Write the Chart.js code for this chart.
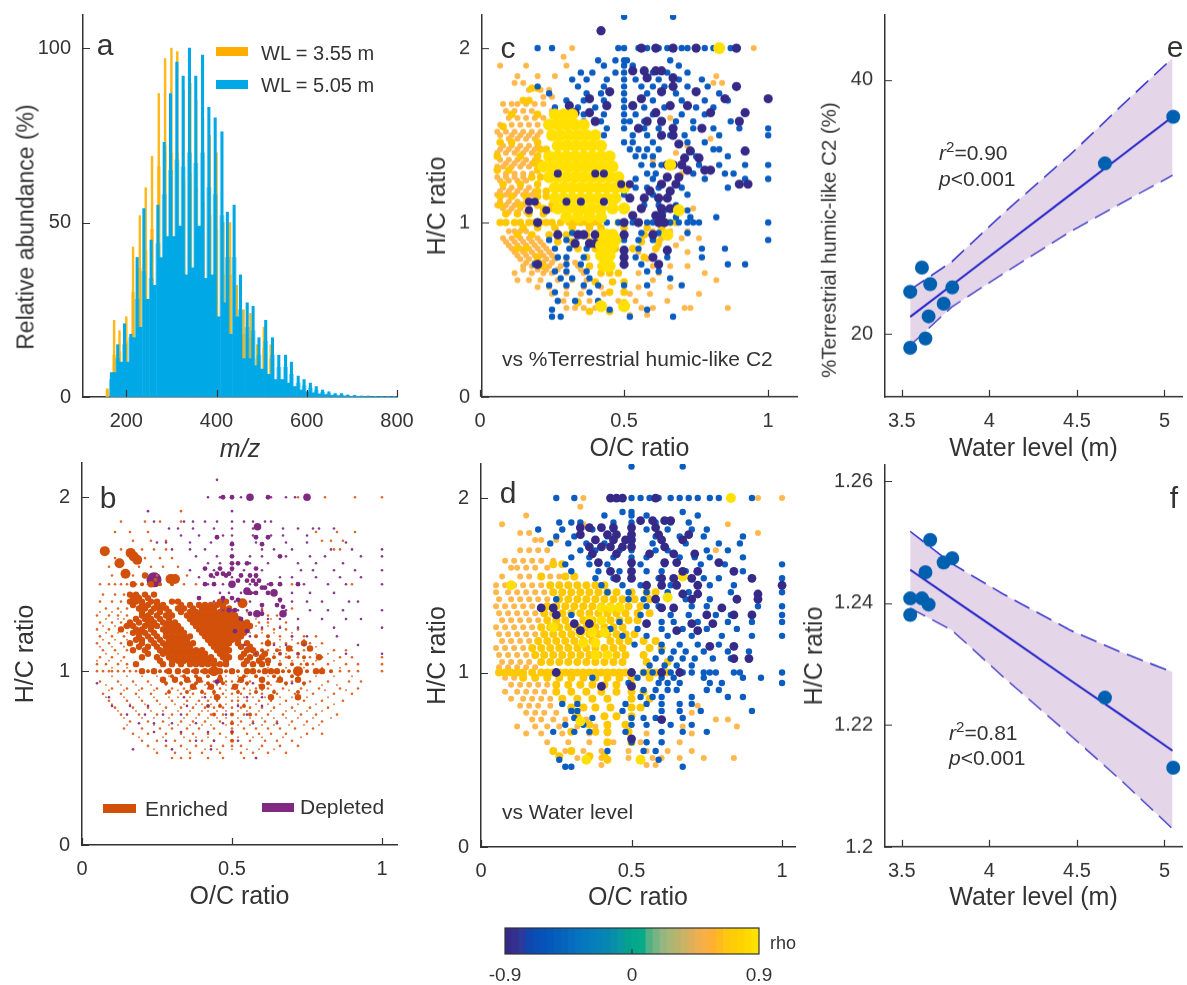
<!DOCTYPE html>
<html><head><meta charset="utf-8">
<script src="https://cdn.jsdelivr.net/npm/chart.js@4"></script>
<style>
html,body{margin:0;padding:0;background:#fff;width:1187px;height:985px;overflow:hidden;font-family:"Liberation Sans",Arial,sans-serif;color:#333}
canvas{position:absolute}
.t{position:absolute;white-space:nowrap;line-height:1;transform:translateY(-50%)}
.c{transform:translate(-50%,-50%)}
.r{position:absolute;white-space:nowrap;line-height:1;transform:translate(-50%,-50%) rotate(-90deg)}
.s{position:absolute}
sup{font-size:.72em;line-height:0}
</style></head><body>
<script>
// ---------- panel a ----------
const aMz=[167,181,196,210,224,239,255,270,284,298,312,326,340,354,369,383,397,412,424,439,453,468,481,494,509,524,538,553,566,581,594,608,621,635,649,663,677,691,706,721,736,751,766,780,795];
const aBlueSpike=[7,15,21,18,40,54,45,55,73,87,96,92,100,92,98,83,80,76,53,55,35,27,26,17,22,17,12,12,10,6,5,4,3,2,1.5,1,1,.6,.5,.3,.3,.2,.2,.2,.2];
const aBlueShoulder=[5,11,15,17,28,36,34,44,58,65,68,66,70,67,70,60,58,52,40,40,25,20,19,12,16,12,8.5,8.5,6.5,4,3.2,2.6,2,1.4,1,.7,.6,.4,.3,.2,.2,.15,.1,.1,.1];
const aValleyMz=[174,188,203,217,231,247,262,277,291,305,319,333,347,361,376,390,404,418,431,446,460,474,487,501,516,531,545,559,573,587,601,614,628,642,656,670,684,698,713,728,743,758,773,787];
const aBlueValley=[7,10,10,17,20,28,32,40,46,46,49,35,37,49,34,35,23,27,18,23,11,11,9,8,6.5,5,5,4,3,2,1.5,1.2,.9,.7,.5,.4,.3,.2,.2,.15,.1,.1,.1,.1];
const aOrangeMz=[158,173,185,200,215,230,243,257,272,286,300,313,327,342,355,370,385,400,415,430,445,460,475,490,505,520];
const aOrangeSpike=[2.4,22,19,23,43,52,60,69,87,97,100,99,88,90,85,80,75,70,50,50,32,25,24,15,20,15];
const aOrangeShoulder=[2,12,13,16,30,37,42,48,66,72,70,70,62,64,60,56,52,48,35,35,22,18,17,11,14,11];
const aXTicks=[200,400,600,800],aYTicks=[0,50,100];
// ---------- panel b: [H/C, O/C, O/C, ...] ----------
const bEnrichedTiny=[
[.5,.3,.33,.36,.42,.47,.54,.58],[.53,.25,.31,.36,.4,.46,.53,.57,.62,.68],[.57,.22,.28,.33,.38,.43,.47,.5,.53,.6,.66,.72],
[.6,.2,.25,.31,.36,.4,.44,.5,.56,.61,.65,.7],[.64,.17,.22,.28,.33,.37,.42,.46,.5,.55,.59,.63,.68,.75,.8],
[.67,.14,.2,.26,.3,.35,.39,.44,.5,.54,.58,.62,.66,.71,.77],[.71,.16,.22,.27,.33,.37,.41,.46,.5,.53,.57,.61,.65,.7,.75,.8],
[.75,.13,.19,.25,.3,.35,.39,.43,.47,.5,.54,.58,.62,.67,.73,.78,.85],[.79,.11,.17,.22,.28,.33,.37,.41,.44,.47,.5,.53,.56,.6,.64,.7,.76,.82],
[.83,.09,.15,.2,.25,.3,.35,.39,.42,.45,.5,.52,.55,.59,.63,.68,.74,.8,.87],[.87,.07,.13,.18,.23,.28,.33,.37,.41,.44,.47,.5,.53,.56,.6,.65,.71,.77,.84,.9],
[.9,.1,.15,.2,.25,.3,.34,.38,.42,.46,.5,.54,.58,.62,.67,.73,.79,.86,.92],[.94,.06,.12,.17,.22,.27,.31,.36,.4,.44,.48,.5,.52,.56,.6,.65,.7,.76,.82,.89,.93],
[1,.05,.07,.09,.1,.12,.14,.16,.18,.22,.26,.28,.34,.37,.4,.48,.52,.59,.67,.69,.75,.83,.86,.89,.92,1],
[1.04,.05,.08,.12,.15,.7,.73,.77,.82,.88,.92,1],[1.08,.06,.1,.14,.64,.68,.72,.76,.8,.86,.9,1],[1.12,.07,.11,.15,.62,.66,.7,.74,.84,.88],
[1.16,.05,.09,.13,.6,.64,.68,.72,.76,.8],[1.2,.06,.1,.14,.58,.62,.66,.7,.74,.78],[1.24,.05,.09,.6,.64,.68,.72],[1.28,.06,.1,.13,.59,.62,.68],
[1.32,.05,.09,.12,.15,.62,.65],[1.36,.08,.12,.15,.6,.7],[1.4,.06,.1,.13,.66],[1.44,.07,.11,.14],[1.5,.06,.09,.11,.13,.15,.18,.2,.22,.26,.3,.34,.38,.7,.9],
[1.55,.1,.17,.21,.25,.3,.35],[1.6,.09,.19,.23,.27,.32],[1.65,.11,.21,.26,.3],[1.7,.13,.2,.24,.28,.84,.86],[1.75,.17,.23,.28,.8,.83,.87],
[1.8,.11,.16,.22,.78,.85,.91],[1.86,.13,.21,.26,.33],[1.92,.33],[2,.72,.81,.91,1]];
const bEnrichedTiny2=[[.55,.24,.3,.35,.41,.45,.5,.55,.59,.64],[.62,.19,.27,.34,.38,.42,.48,.52,.57,.6,.67,.73],[.69,.15,.24,.29,.32,.36,.4,.43,.48,.52,.56,.6,.64,.69,.74,.79],[.73,.14,.2,.24,.29,.34,.38,.42,.45,.48,.52,.56,.6,.64,.68,.72,.77,.83],[.77,.12,.18,.23,.27,.32,.36,.4,.42,.45,.48,.52,.55,.59,.63,.68,.71,.75,.8],[.81,.1,.16,.21,.26,.31,.34,.38,.4,.43,.46,.48,.52,.54,.58,.62,.66,.72,.78,.84],[.85,.08,.14,.19,.24,.29,.32,.36,.4,.43,.46,.48,.52,.54,.57,.61,.66,.7,.75,.82],[.89,.09,.14,.19,.24,.29,.32,.36,.4,.44,.48,.52,.56,.6,.64,.69,.75,.81,.88],[.92,.08,.13,.18,.23,.28,.33,.37,.41,.45,.48,.52,.55,.59,.63,.68,.74,.8,.85],[.97,.1,.15,.2,.25,.29,.33,.38,.42,.46,.48,.52,.55,.58,.62,.66,.72,.78,.84,.9],[1.02,.1,.15,.62,.68,.74,.8,.86],[1.06,.05,.09,.13,.66,.7,.74,.78,.84],[1.1,.08,.12,.6,.64,.68,.78,.82],[1.14,.06,.1,.14,.66,.7,.78],[1.18,.07,.11,.15,.62,.66,.7,.74],[1.22,.08,.12,.15,.56,.6,.64,.7],[1.26,.07,.11,.14,.58,.62,.66],[1.3,.08,.12,.14,.58,.63],[1.34,.06,.1,.13,.55,.6]];
const bEnrichedSmall=[[1,.22,.26,.28,.34,.37,.4,.48,.52,.59,.67,.69,.75,.83],[.97,.3,.34,.38,.42,.46,.54,.58,.64,.7],[.93,.28,.33,.38,.42,.47,.55,.62,.68,.74],[.88,.29,.35,.4,.44,.52,.58,.64,.72],[1.04,.62,.66,.7,.75],[1.08,.64,.69,.74],[1.12,.6,.65],[.8,.42,.46,.54],[.75,.44,.5,.56],[.7,.5],[.65,.5],[.6,.5],[1.1,.66,.72],[1.2,.58,.62],[1.5,.2,.26,.3]];
const bEnrichedMid=[
[1.44,.16,.18,.21,.24],[1.4,.16,.18,.2,.23,.25,.3,.32,.46,.48],[1.36,.19,.21,.24,.26,.28,.32,.34,.37,.4,.42,.44,.47,.49],
[1.32,.2,.22,.25,.28,.3,.35,.37,.39,.41,.43,.45,.47,.49,.51],[1.28,.16,.19,.22,.24,.27,.29,.31,.37,.39,.41,.43,.45,.47,.49,.51,.53,.55],
[1.24,.13,.18,.2,.23,.27,.29,.31,.33,.39,.41,.43,.45,.47,.49,.51,.53,.55],[1.2,.19,.22,.25,.28,.3,.32,.34,.36,.41,.43,.45,.47,.49,.51,.53],
[1.16,.16,.2,.24,.27,.29,.31,.33,.35,.37,.43,.45,.47,.49,.52,.55],[1.12,.17,.21,.26,.28,.3,.32,.34,.36,.38,.4,.45,.47,.49,.55,.57],
[1.08,.2,.25,.29,.31,.33,.35,.37,.39,.41,.43,.47,.49,.53,.56,.6],[1.04,.18,.27,.3,.33,.36,.38,.4,.42,.44,.46,.48,.54,.57,.6],
[1,.2,.24,.29,.32,.35,.38,.41,.43,.45,.46,.5,.55,.57,.61,.63,.65,.72,.78,.8],[.95,.27,.31,.35,.39,.46,.53,.6,.66,.72],[.91,.37,.43,.51,.6],[.85,.45,.63,.72],
[1.5,.17,.23],[1.55,.21],[1.62,.12],[1.16,.74,.62],[1.08,.79],[1.13,.69,.76],
[1.42,.17,.19,.22],[1.38,.17,.2,.22,.25,.27,.33,.36,.39,.41,.43,.45,.47],[1.34,.2,.23,.26,.29,.33,.36,.38,.4,.42,.44,.46,.48,.5],[1.3,.18,.21,.23,.26,.29,.36,.38,.4,.42,.44,.46,.48,.5,.52],[1.26,.15,.17,.21,.23,.25,.28,.3,.32,.38,.4,.42,.54,.56],[1.22,.17,.19,.21,.24,.28,.3,.32,.34,.4,.42,.44,.52,.54],[1.18,.18,.2,.23,.26,.29,.31,.33,.35,.42,.44,.46,.48,.5,.52],[1.14,.19,.22,.25,.28,.3,.32,.34,.36,.44,.46,.48,.53,.56],[1.1,.22,.27,.29,.31,.33,.35,.37,.39,.41,.46,.48,.54,.58,.61],[1.06,.26,.3,.32,.34,.36,.38,.4,.42,.44,.48,.55,.59,.62]];
const bEnrichedBig=[[1.69,.076],[1.62,.125],[1.68,.162],[1.66,.172],[1.64,.184],[1.56,.145],[1.53,.295,.31],[1.39,.535],[1.3,.45,.47,.49],[1.26,.42,.44,.46,.48,.5,.52],[1.22,.44,.46,.49,.51],[1.42,.18],[1,.44,.72]];
const bDepletedTiny=[[2.1,.45],[2,.42,.46,.5,.53,.63,.68,.71],[1.92,.22,.5],[1.86,.24,.34,.37,.41,.45,.5,.54,.57,.61,.63],[1.82,.29,.32,.37,.44,.5,.57,.67,.72,.77,.79,.84],
[1.78,.33,.39,.47,.5,.57,.63,.67,.75],[1.74,.25,.28,.36,.43,.5,.58,.68,.75,.88],[1.7,.3,.36,.41,.5,.6,.64,.7,.83,.9,1],[1.66,.38,.45,.5,.56,.6,.68,.76,.81,.93,1],
[1.62,.42,.46,.5,.56,.62,.72,.78,.87],[1.58,.36,.44,.5,.54,.6,.73,.77,.84,.91,1],[1.54,.39,.44,.5,.58,.66,.7,.78,.86,.93],[1.5,.42,.47,.56,.62,.66,.74,.82,.88,1],
[1.45,.46,.49,.53,.57,.7,.76,.84],[1.4,.44,.47,.51,.56,.7,.75,.8,.89,.92],[1.35,.47,.5,.52,.55,.6,.68,.76,.82,.87,1],[1.3,.62,.66,.72,.8,.88,.93],[1.25,.6,.66,.72,.84,1],[1.2,.56,.7,.75,.85],[1.15,.54,.64,.68,.74,.92],[1.1,.58,.66,.72,.88,1],
[.93,.05,.45,.57,.7],[.85,.09,.34,.41,.55,.6],[.8,.1,.16,.22,.35,.42,.52,.6],[.75,.15,.21,.27,.33,.48,.55],[.7,.19,.24,.3,.38,.47,.57,.65],[.65,.24,.33,.42,.5],[.6,.28,.38,.44,.52],[.55,.17,.3,.43],[.5,.58]];
const bDepletedMid=[[2,.5,.47,.62],[1.77,.45,.58,.62],[1.73,.6,.5],[1.66,.5,.66],[1.62,.5,.52,.55],[1.59,.46,.5,.41,.58],[1.55,.43,.48,.58,.53,.56],[1.5,.41,.44,.58,.63,.66,.72],[1.45,.56,.58,.62,.64],[1.42,.39,.5,.47],[1.38,.6,.65],[1.33,.6,.56],[1.3,.53],[1.23,.51,.55],[.94,.45],[1.56,.45,.47,.49],[1.52,.52,.55,.57,.59],[1.48,.6,.61],[1.41,.52,.66],[1.37,.67],[1.35,.49,.51]];
const bDepletedBig=[[2,.56,.75],[1.83,.585],[1.5,.5],[1.46,.55],[1.33,.583,.67],[1.45,.64]];
const bDepletedHuge=[[1.525,.24]];
const bDepletedDot=[[1.525,.245]];
// ---------- panel c ----------
const cOrange=[
[2,.32,.95],[1.95,.29],[1.9,.07,.16,.3],[1.84,.13,.2,.26,.82],[1.8,.12,.15,.81,.84],[1.76,.17,.21,.24],[1.72,.22,.25],[1.68,.08,.11,.13,.16,.19,.22],[1.64,.09,.12,.15,.18,.25],[1.6,.1,.13,.16,.19,.22,.66],
[1.56,.07,.11,.14,.17,.2,.23],[1.52,.06,.09,.12,.15,.18,.21],[1.48,.1,.13,.16,.19,.8],[1.44,.08,.11,.14,.17,.2,.72],[1.4,.06,.09,.12,.15,.18,.68],[1.36,.07,.1,.13,.16,.19,.6,.76],[1.32,.06,.08,.11,.14,.17],[1.28,.09,.12,.15,.18,.7],
[1.24,.07,.1,.13,.16],[1.2,.08,.11,.14,.17],[1.16,.06,.09,.12,.15,.18],[1.12,.07,.1,.13,.16],[1.08,.08,.11,.14,.17,.74],
[.95,.1,.12,.14,.16,.6,.66,.72],[.91,.08,.11,.14,.17,.2,.63,.7,.76],[.87,.1,.13,.16,.19,.22,.62,.68],[.83,.12,.15,.18,.21,.24,.55,.65,.72],[.79,.14,.17,.2,.23,.26,.3,.58],[.75,.15,.18,.21,.24,.28,.34,.6,.66,.72],
[.71,.12,.18,.22,.25,.3,.36,.55,.62,.78],[.67,.13,.17,.21,.27,.32,.37,.6,.82],[.63,.2,.24,.3,.36,.42,.55,.66],[.59,.25,.3,.35,.43,.52,.59,.76],[.55,.29,.34,.38,.48,.54,.65],[.51,.3,.33,.36,.4,.56,.6,.71,.73,.86],[.47,.52,.58],
[1.5,.07,.11,.14,.17,.2],[1.42,.07,.1,.13,.16,.19],[1.34,.09,.12,.15,.18],[1.26,.06,.09,.12,.15,.18],[1.18,.07,.1,.13,.16,.19],[1.1,.06,.09,.12,.15],[1.06,.1,.13,.16],[.89,.09,.12,.15,.18,.21],[.85,.11,.14,.17,.2,.23],[.81,.13,.16,.19,.22,.25],[.77,.16,.19,.22,.25,.33],[.73,.15,.2,.23,.27,.35]];
const cGold=[[1.77,.18,.2],[1.7,.15,.17],[1.62,.11,.2],[1.55,.08,.24],[1.46,.07,.11,.2],[1.38,.06,.14,.2],[1.3,.06,.1,.2],[1.22,.08,.14,.2],[1.15,.07,.11,.16,.2,.23],[1.1,.07,.14,.2,.25],[1.05,.09,.13,.17,.22],
[1,.07,.09,.12,.14,.17,.19,.21,.23,.25,.28,.31,.33,.35,.37,.39,.41,.48,.66,.68],[.97,.15,.2,.26,.32,.38,.42,.5,.58,.63],[.93,.13,.18,.24,.3,.37,.42,.46,.57,.65],[.89,.27,.32,.38,.44,.47,.56,.62],[.85,.13,.16,.34,.4,.44,.47,.53,.61],[.8,.2,.37,.42,.45,.57],[.75,.22,.38,.42,.45],[.71,.42,.45,.48],[.66,.4,.46,.5],[.6,.45,.5],[.54,.5,.34],[.49,.45,.38],
[1.42,.21,.23],[1.34,.19,.21],[1.26,.18,.21],[1.18,.2,.23],[1.08,.22,.25]];
const cYellow=[[1.62,.26,.29,.32],[1.56,.24,.27,.3,.33,.36],[1.5,.25,.28,.31,.34,.37,.4],[1.44,.27,.3,.33,.36,.39,.42],[1.38,.24,.27,.3,.33,.36,.39,.42,.45],[1.32,.22,.25,.28,.31,.34,.37,.4,.43,.46],[1.26,.24,.27,.3,.33,.36,.39,.42,.45,.48],[1.2,.26,.29,.32,.35,.38,.41,.44,.47,.5],[1.14,.26,.29,.32,.35,.38,.41,.44,.47],[1.08,.27,.3,.33,.36,.39,.42,.46,.5],[1.03,.3,.34,.38,.42],[.93,.42,.44,.46],[.87,.42,.44,.46],[.81,.42,.45],[.75,.43,.45],[1.33,.66],[.93,.65],[.9,.47],[2,.83],[1.07,.69],[.52,.42,.5]];
const cBlue=[[2.18,.5,.67],[2,.2,.25,.48,.5,.55,.58,.62,.65,.7,.72,.78,.81,.87],[1.93,.41,.47,.5,.51,.66],[1.9,.43,.5,.53,.69],[1.86,.35,.39,.47,.5,.6,.65,.72],[1.82,.32,.37,.44,.5,.54,.62,.69,.77],[1.78,.2,.34,.43,.5,.56,.6,.64,.72,.79],[1.74,.24,.37,.42,.5,.58,.68,.83],[1.7,.3,.36,.43,.5,.6,.7,.78,.86],[1.66,.26,.34,.4,.5,.57,.64,.75,.81],[1.62,.36,.43,.5,.54,.6,.7,.78],[1.58,.36,.42,.5,.52,.57,.68,.74,.87],[1.54,.44,.5,.57,.62,.74,.81,.9,1],[1.5,.43,.53,.58,.66,.71,.83,1],[1.46,.5,.53,.6,.72,.78],[1.42,.52,.55,.58,.62,.81,.83],[1.38,.54,.57,.6,.75,.86],[1.33,.56,.6,.63,.76,.83,.92,1],[1.28,.58,.61,.74,.85,.88],[1.25,.54,.6,.78,.92,1],[1.2,.54,.58,.62,.7,.86],[1.16,.5,.6,.72],[1.1,.57,.62,.68],[1.07,.64,.7,.72],[1.03,.62,.68,.73,.82],[1,.44,.48,.53,.58,.6,.66,.69,.72,.74,.76,1],[.94,.32,.45,.56,.62,.72],[.9,.24,.3,.42,.5,.55,.6,1],[.85,.26,.31,.37,.5,.55,.65,.77,.85],[.8,.27,.3,.36,.5,.54,.6,.65,.77],[.76,.19,.3,.35,.5,.56,.62,.86,.92],[.72,.26,.3,.37,.58,.62],[.68,.28,.32,.38,.66],[.64,.24,.3,.36,.41,.5,.58,.7],[.6,.26,.38],[.55,.27,.33,.41],[.5,.25,.45,.58],[.46,.25,.28,.52,.67]];
const cNavy=[[2.1,.42],[2,.56,.61,.67,.75,.89],[1.87,.53,.57,.61,.63],[1.83,.58,.67],[1.78,.67,.89],[1.75,.45,.63,.75],[1.71,.38,.56,.85,1],[1.67,.31,.44,.53,.66,.72],[1.63,.33,.38,.61,.8,.92],[1.58,.4,.58,.63,.9],[1.54,.55,.67,.77],[1.5,.63,.67],[1.45,.69],[1.41,.73,.92],[1.37,.71,.76],[1.33,.65,.67,.7],[1.3,.72,.78,.8],[1.26,.65,.69],[1.22,.63,.68,.9,.93],[1.18,.59,.66],[1.14,.52,.57,.62,.65],[1.08,.56,.63,.66,.68],[1.04,.53,.61,.63],[1,.2,.5,.55,.62,.64],[.93,.27,.34,.36,.4,.5,.6],[.88,.33,.38,.4],[.84,.5,.65],[.8,.5,.6],[.76,.2,.5,.62]];
const cNavyTop=[[1.28,.27,.4,.43],[1.22,.49,.52],[1.12,.17,.19,.3,.35,.43],[1.07,.17,.23],[.93,.4,.35,.5]];
// ---------- panel d ----------
const dOrange=[[2,.34,.92,1],[1.95,.33],[1.9,.15],[1.85,.07,.33,.34,.82],[1.8,.13,.16,.92],[1.76,.18,.2,.25],[1.7,.13,.16,.19,.22,.78],[1.64,.08,.11,.14,.17,.2,.24],[1.6,.1,.12,.15,.18,.22],[1.55,.07,.13,.16,.2,.23,.26],[1.5,.05,.08,.11,.14,.17,.2],[1.46,.05,.09,.12,.15,.18,.21],[1.42,.06,.1,.13,.16,.19,.22],[1.38,.05,.08,.11,.14,.17],[1.34,.06,.09,.12,.15,.18],[1.3,.07,.1,.13,.16,.19],[1.26,.05,.08,.11,.14,.17],[1.22,.06,.09,.12,.15,.18],[1.18,.07,.1,.13,.16],[1.14,.05,.08,.11,.14],[1.1,.06,.09,.12,.15],[.93,.1,.13,.16,.19,.22],[.89,.08,.12,.15,.18,.21],[.85,.1,.14,.17,.2,.23],[.81,.13,.16,.19,.23,.72],[.77,.15,.18,.21,.25,.31,.7],[.73,.17,.2,.24,.28,.35,.78,.82],[.69,.12,.18,.22,.26,.32,.38,.67,.85],[.65,.15,.2,.27,.36,.42,.55,.7],[.6,.22,.29,.36,.44,.53,.66],[.55,.28,.34,.4,.49,.55,.62,.7],[.51,.32,.36,.4,.49,.57,.6,.66,.74,.84],[.47,.4,.55,.58],
[1.06,.07,.1,.13,.16],[1.03,.06,.09,.12,.15,.18],[.97,.08,.11,.14]];
const dGold=[[1.62,.24,.27],[1.55,.2,.28,.31],[1.5,.23,.26,.29,.32,.35,.38,.41],[1.46,.24,.27,.3,.33,.36,.39,.42,.45,.5,.55,.58],[1.42,.26,.29,.32,.35,.38,.41,.44,.47,.51,.56],[1.38,.22,.25,.28,.31,.34,.37,.4,.43,.46,.49,.53],[1.34,.21,.24,.27,.3,.33,.36,.39,.42,.45,.48,.52,.56],[1.3,.22,.25,.28,.34,.37,.4,.43,.46,.49,.52],[1.26,.2,.23,.26,.29,.32,.35,.38,.41,.44,.47],[1.22,.21,.24,.27,.3,.33,.36,.39,.42,.45,.48,.51],[1.18,.19,.22,.25,.28,.31,.34,.37,.43,.46,.49,.54,.58],[1.14,.17,.2,.23,.26,.29,.32,.35,.38,.41,.44,.47,.56,.6],[1.1,.18,.21,.24,.27,.3,.33,.36,.39,.42,.45,.48,.54],[1.06,.2,.23,.26,.29,.32,.35,.38,.41,.44,.47,.55,.62],[1,.06,.08,.1,.12,.14,.17,.2,.22,.24,.26,.28,.3,.32,.34,.36,.38,.4,.42,.44,.46,.48,.54,.56,.58,.62],[.97,.14,.18,.22,.26,.3,.34,.38,.42,.46,.5,.56],[.93,.25,.29,.33,.37,.41,.45,.5],[.89,.25,.3,.35,.4,.45,.5,.54],[.85,.27,.32,.37,.42,.5,.56],[.8,.3,.34,.38,.43,.5,.53],[.75,.32,.41,.45,.5],[.7,.36,.42,.48],[.66,.3,.38,.42,.49],[.6,.5,.42],[.55,.3,.24],[.52,.26,.36,.41],[.5,.42]];
const dYellow=[[2,.83],[1.5,.1],[1.55,.67],[1.43,.62],[1.37,.4,.43,.46],[1.3,.36,.4],[1.23,.33,.37,.41],[1.17,.34,.38],[1.1,.38,.42],[1.26,.24],[.72,.33],[.5,.53],[.5,.35]];
const dBlue=[[2.18,.5,.67],[2,.25,.31,.5,.53,.56,.59,.63,.66,.69,.72,.76,.79,.9],[1.92,.47,.5,.67],[1.9,.41,.5,.55,.72],[1.86,.26,.3,.33,.44,.5,.58,.63,.69],[1.82,.19,.27,.37,.44,.5,.55,.62,.7,.75],[1.78,.25,.31,.42,.5,.58,.66,.74,.87],[1.74,.23,.29,.35,.41,.5,.57,.68,.79,.86],[1.7,.33,.38,.46,.5,.58,.62,.75,.82],[1.66,.3,.36,.44,.5,.55,.66,.71,.76,.87],[1.62,.28,.36,.42,.5,.53,.61,.73,.81,1],[1.58,.3,.39,.46,.55,.6,.68,.87],[1.54,.38,.44,.5,.59,.64,.74,.79,1],[1.5,.4,.47,.53,.63,.72,.76,.84],[1.46,.42,.49,.55,.62,.69,.83,1],[1.42,.25,.49,.54,.68,.76,.85],[1.38,.55,.59,.7,.75,.92,1],[1.33,.3,.53,.63,.69,.78,.83,1],[1.29,.46,.6,.64,.72,.82,.9,1],[1.25,.43,.52,.6,.67,.75,.85],[1.21,.47,.55,.62,.7,.8,.9,1],[1.16,.51,.6,.66,.72,.79],[1.12,.6,.64,.68,.74,.82,.89],[1.08,.58,.63,.67,.71,.77,.83],[1.04,.56,.61,.65,.7],[1,.54,.57,.63,.67,.7,.74,.76,.78,.84,.86,1],[.97,.37,.52,.6,.64,.74,.87,.93],[.94,.49,.59,.62,.66,.76,.8,1],[.9,.54,.58,.62,.65,.75,.79],[.86,.53,.57,.6,.7,.82,.87],[.82,.27,.32,.48,.55,.6,.66,.7],[.78,.3,.32,.47,.6,.66,.73,.9],[.74,.31,.37,.5,.54,.58,.67],[.7,.28,.34,.5,.55,.63,.7],[.66,.24,.31,.36,.48,.6,.67,.75],[.6,.5,.55,.6],[.55,.42,.54,.58],[.5,.26,.53,.59],[.46,.28,.3,.67]];
const dNavy=[[2,.43,.45,.47,.58],[1.87,.53,.57,.61,.63],[1.83,.33,.36,.4,.44,.5,.58],[1.79,.33,.42,.45,.5,.59,.69],[1.76,.38,.44,.48,.5,.6,.67],[1.72,.36,.4,.43,.47,.5,.61],[1.68,.37,.45,.56,.64,.71],[1.63,.39,.5,.61,.65,.79],[1.58,.43,.5,.67,.72,.84],[1.54,.45,.5,.6,.64,.7,.9],[1.5,.55,.6,.65,.72,1],[1.45,.67,.72,.92],[1.42,.58,.7,.85,.92],[1.37,.2,.24,.6,.64,.8],[1.33,.25,.75,.84,.9],[1.28,.31,.36,.55,.7,.77],[1.24,.33,.65,.72],[1.15,.76,.84],[1.08,.84,.89],[1,.25,.5,.6,.66],[.92,.4,.5],[.73,.6],[.62,.5]];
// ---------- panels e, f ----------
const wl=[3.548,3.548,3.615,3.635,3.653,3.662,3.739,3.788,4.66,5.05];
const ePct=[18.93,23.33,25.24,19.66,21.4,23.93,22.4,23.67,33.42,37.09];
const fHC=[1.2381,1.2408,1.2408,1.2451,1.2398,1.2504,1.2467,1.2474,1.2245,1.213];
const bandX=[3.548,3.786,4.08,4.46,4.75,5.046];
const eUpper=[23.5,25.7,29.5,34.1,37.9,41.7],eLower=[19.13,22.15,24.77,28.05,30.27,32.5],eFit=[21.36,23.86,26.95,30.94,33.98,37.09];
const fUpper=[1.2518,1.2465,1.2415,1.2356,1.232,1.2287],fLower=[1.2392,1.2356,1.2279,1.2184,1.211,1.203],fFit=[1.2455,1.2408,1.235,1.2274,1.2217,1.2158];
// ---------- colour bar ----------
const cbRho=[-.875,-.825,-.775,-.725,-.675,-.625,-.575,-.525,-.475,-.425,-.375,-.325,-.275,-.225,-.175,-.125,-.075,-.025,.025,.075,.125,.175,.225,.275,.325,.375,.425,.475,.525,.575,.625,.675,.725,.775,.825,.875];
const cbColor=['#352a87','#33308f','#2c3a9c','#0f46b0','#0a4db5','#0652b8','#0559ba','#055fbc','#0565bd','#066cbf','#0673bf','#0678bd','#067ebb','#0682b8','#0787b0','#088ea8','#0898a0','#06a08e','#04a88c','#08aa8a','#50b086','#76b583','#95b67f','#a8b676','#bab36c','#cbb264','#dcb05a','#efaf4e','#f8b044','#ffb030','#ffbb1e','#ffc810','#ffcd08','#ffd200','#ffd900','#ffe000'];

const DARK='#333';
const FONT='"Liberation Sans",Arial,sans-serif';
const pts=rows=>rows.flatMap(r=>r.slice(1).map(x=>({x,y:r[0]})));
const sc=(rows,color,r)=>({type:'scatter',data:pts(rows),backgroundColor:color,pointRadius:r,pointBorderWidth:0,pointHoverRadius:r});
const inward={id:'inward',afterDraw(ch){const c=ch.ctx,{x,y}=ch.scales;c.save();c.strokeStyle=DARK;c.lineWidth=1.2;c.beginPath();
 x.ticks.forEach(t=>{const p=Math.round(x.getPixelForValue(t.value))+.5;c.moveTo(p,x.top);c.lineTo(p,x.top-7)});
 y.ticks.forEach(t=>{const p=Math.round(y.getPixelForValue(t.value))+.5;c.moveTo(y.right,p);c.lineTo(y.right+7,p)});
 c.stroke();c.restore();}};
function panel(type,box,xs,ys,datasets,xTitle,yTitle){
 const [L,T,R,B,xT,yT]=box,PL=85,PB=70,PT=10,PR=30,xf=25,yf=25;
 const cv=document.createElement('canvas');cv.style.left=(L-PL)+'px';cv.style.top=(T-PT)+'px';document.body.appendChild(cv);
 const W=R-L+PL+PR,H=B-T+PT+PB;cv.width=W;cv.height=H;cv.style.width=W+'px';cv.style.height=H+'px';
 return new Chart(cv,{type,data:{datasets},plugins:[inward],options:{responsive:false,animation:false,events:[],
  layout:{padding:{top:PT,right:PR,left:0,bottom:0}},plugins:{legend:{display:false},tooltip:{enabled:false}},
  scales:{
   x:{type:'linear',min:xs[0],max:xs[1],offset:false,grid:{display:false},border:{display:true,color:DARK,width:1.5},
      afterFit:s=>{s.height=PB;s.paddingLeft=0;s.paddingRight=0},afterBuildTicks:s=>{s.ticks=xs[2].map(value=>({value}))},
      ticks:{color:DARK,font:{size:20,family:FONT},padding:4,maxRotation:0,autoSkip:false,callback:v=>String(v)},
      title:{display:!!xTitle,text:xTitle,color:DARK,font:{size:xf,family:FONT,style:xTitle==='m/z'?'italic':'normal'},padding:{top:0,bottom:B+PB-xT-xf*.6}}},
   y:{type:'linear',min:ys[0],max:ys[1],grid:{display:false},border:{display:true,color:DARK,width:1.5},
      afterFit:s=>{s.width=PL;s.paddingTop=0;s.paddingBottom=0},afterBuildTicks:s=>{s.ticks=ys[2].map(value=>({value}))},
      ticks:{color:DARK,font:{size:20,family:FONT},padding:4,autoSkip:false,callback:v=>String(v)},
      title:{display:!!yTitle,text:yTitle,color:DARK,font:{size:yf,family:FONT},padding:{top:yT-(L-PL)-yf*.6,bottom:0}}}
  }}});
}
function bars(mz,v,color,w){return {type:'bar',data:mz.map((x,i)=>({x,y:v[i]})),backgroundColor:color,barThickness:w,grouped:false,borderWidth:0}}
// panel a (first dataset is drawn on top)
panel('bar',[83,15,397,397,450,0],[104,800,aXTicks],[0,109.5,aYTicks],[
 bars(aMz,aBlueSpike,'#00a9e6',2.4),bars(aValleyMz,aBlueValley,'#00a9e6',3.9),bars(aMz,aBlueShoulder,'rgba(0,169,230,.5)',4.2),
 bars(aOrangeMz,aOrangeSpike,'rgba(255,176,0,.9)',1.8),bars(aOrangeMz,aOrangeShoulder,'rgba(255,176,0,.6)',3)
],'m/z','');
// panel b
panel('scatter',[82,463,397,845,897,26],[0,1.05,[0,.5,1]],[0,2.197,[0,1,2]],[
 sc(bDepletedMid,'#7f2a80',2.4),sc(bDepletedBig,'#7f2a80',3.8),sc(bDepletedTiny,'#8a3a8c',1.3),
 sc(bDepletedDot,'#d2500a',2),
 sc(bEnrichedBig,'#d2500a',5),sc(bEnrichedMid,'#d2500a',3.2),sc(bEnrichedSmall,'#d2500a',2),sc(bEnrichedTiny,'#e0662a',1.3),sc(bEnrichedTiny2,'#e8804a',1),
 sc(bDepletedHuge,'#7f2a80',7.5)
],'O/C ratio','H/C ratio');
// panel c
panel('scatter',[482,15,797,396.5,449,438],[.007,1.1,[0,.5,1]],[0,2.19,[0,1,2]],[
 sc(cNavyTop,'#352a87',4),sc(cYellow,'#ffe000',6),sc(cNavy,'#352a87',4.6),sc(cBlue,'#0a5cc0',3.2),sc(cGold,'#ffc800',3.8),sc(cOrange,'#ffb84d',3)
],'O/C ratio','H/C ratio');
// panel d
panel('scatter',[481,464,795,847,898,438],[0,1.043,[0,.5,1]],[0,2.195,[0,1,2]],[
 sc(dNavy,'#352a87',4.4),sc(dYellow,'#ffe000',5),sc(dBlue,'#0a5cc0',3.2),sc(dGold,'#ffc800',4),sc(dOrange,'#ffb84d',3)
],'O/C ratio','H/C ratio');
// panels e, f
const ln=(v,color,w,dash,fill)=>({type:'scatter',showLine:true,data:bandX.map((x,i)=>({x,y:v[i]})),borderColor:color,borderWidth:w,borderDash:dash||[],pointRadius:0,fill:fill||false,backgroundColor:'rgba(190,155,200,.42)'});
const dots=(ys)=>({type:'scatter',data:wl.map((x,i)=>({x,y:ys[i]})),backgroundColor:'#0060b0',pointRadius:7,pointBorderWidth:0,clip:false});
panel('scatter',[885,15,1182,396.7,449,0],[3.404,5.1,[3.5,4,4.5,5]],[15.07,45.09,[20,40]],[
 dots(ePct),ln(eFit,'#2222c8',2),ln(eUpper,'#2222c8',1.4,[17,8],'+1'),ln(eLower,'#2222c8',1.4,[17,8])
],'Water level (m)','');
panel('scatter',[885,465,1182,846.7,898,815],[3.404,5.1,[3.5,4,4.5,5]],[1.2,1.2627,[1.2,1.22,1.24,1.26]],[
 dots(fHC),ln(fFit,'#2222c8',2),ln(fUpper,'#2222c8',1.4,[17,8],'+1'),ln(fLower,'#2222c8',1.4,[17,8])
],'Water level (m)','H/C ratio');
// colour bar
(function(){
 const cv=document.createElement('canvas');cv.style.left='485px';cv.style.top='919px';document.body.appendChild(cv);cv.width=295;cv.height=66;cv.style.width='295px';cv.style.height='66px';
 new Chart(cv,{type:'bar',data:{datasets:[{data:cbRho.map(x=>({x,y:1})),backgroundColor:cbColor,barThickness:7.6,grouped:false,borderWidth:0}]},
  plugins:[{id:'frame',afterDraw(ch){const c=ch.ctx,a=ch.chartArea;c.save();c.strokeStyle=DARK;c.lineWidth=1.2;c.strokeRect(a.left,a.top,a.right-a.left,a.bottom-a.top);const p=ch.scales.x.getPixelForValue(0);c.beginPath();c.moveTo(p,a.bottom);c.lineTo(p,a.bottom-5);c.stroke();c.restore();}}],
  options:{responsive:false,animation:false,events:[],layout:{padding:{left:20,right:21,top:9,bottom:0}},plugins:{legend:{display:false},tooltip:{enabled:false}},
  scales:{x:{type:'linear',min:-.9,max:.9,offset:false,grid:{display:false},border:{display:false},afterFit:s=>{s.height=31;s.paddingLeft=0;s.paddingRight=0},afterBuildTicks:s=>{s.ticks=[-.9,0,.9].map(value=>({value}))},ticks:{color:DARK,font:{size:19,family:FONT},padding:2,maxRotation:0,autoSkip:false,callback:v=>String(v)}},
  y:{display:false,min:0,max:1}}}});
})();
// text and legends
const H=(s)=>document.body.insertAdjacentHTML('beforeend',s);
const lbl=(x,y,s,t,cls='c')=>H(`<div class="t ${cls}" style="left:${x}px;top:${y}px;font-size:${s}px">${t}</div>`);
const sw=(x,y,w,h,c)=>H(`<div class="s" style="left:${x}px;top:${y}px;width:${w}px;height:${h}px;background:${c}"></div>`);
lbl(105,45,30,'a');lbl(108,498,30,'b');lbl(508,48,30,'c');lbl(508,493,30,'d');lbl(1175,47,30,'e');lbl(1174,498,30,'f');
H(`<div class="r" style="left:26px;top:227px;font-size:23px">Relative abundance (%)</div>`);
H(`<div class="r" style="left:829px;top:240px;font-size:20.5px">%Terrestrial humic-like C2 (%)</div>`);
sw(216,47,32,9,'#ffae00');sw(216,80,32,9,'#00a9e6');lbl(261,53,20,'WL = 3.55 m','');lbl(261,85,20,'WL = 5.05 m','');
sw(103,804,33,9,'#d2500a');sw(262,803,32,9,'#7f2a80');lbl(145,808,21,'Enriched','');lbl(300,806,21,'Depleted','');
lbl(502,358,21,'vs %Terrestrial humic-like C2','');lbl(502,811,21,'vs Water level','');
lbl(939,152,21,'<i>r</i><sup>2</sup>=0.90','');lbl(939,178,21,'<i>p</i>&lt;0.001','');
lbl(949,732,21,'<i>r</i><sup>2</sup>=0.81','');lbl(949,757,21,'<i>p</i>&lt;0.001','');
lbl(770,943,18,'rho','');
</script>
</body></html>
